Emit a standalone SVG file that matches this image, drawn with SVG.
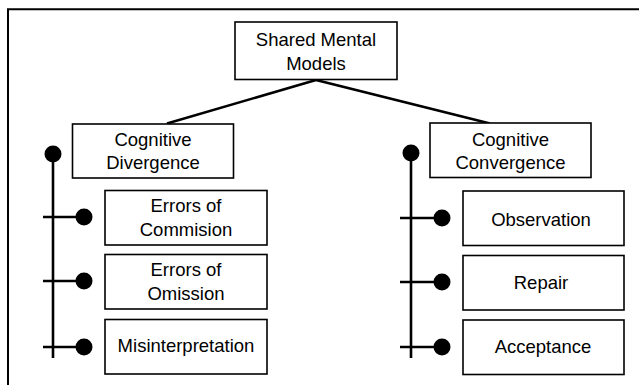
<svg xmlns="http://www.w3.org/2000/svg" width="639" height="385" viewBox="0 0 639 385">
<style>
.box{fill:#fff;stroke:#000;stroke-width:1.6}
.t{font-family:"Liberation Sans",Arial,sans-serif;font-size:18.5px;fill:#000;text-anchor:middle}
.ln{stroke:#000;stroke-width:2.6;fill:none}
.dot{fill:#000}
</style>
<rect width="639" height="385" fill="#fff"/>
<g id="frame">
<path d="M8,385 V9.2 H639" fill="none" stroke="#000" stroke-width="2"/>
</g>
<g id="connectors">
<line class="ln" x1="316" y1="80" x2="167" y2="123.5"/>
<line class="ln" x1="316" y1="80" x2="490" y2="123.5"/>
<line class="ln" x1="53" y1="154" x2="53" y2="358"/>
<line class="ln" x1="43" y1="217" x2="84" y2="217"/>
<line class="ln" x1="43" y1="281" x2="84" y2="281"/>
<line class="ln" x1="43" y1="347" x2="84" y2="347"/>
<circle class="dot" cx="53" cy="154" r="8.5"/>
<circle class="dot" cx="84" cy="217" r="8.5"/>
<circle class="dot" cx="84" cy="281" r="8.5"/>
<circle class="dot" cx="84" cy="347" r="8.5"/>
<line class="ln" x1="411" y1="153" x2="411" y2="358"/>
<line class="ln" x1="400" y1="218" x2="442" y2="218"/>
<line class="ln" x1="400" y1="282" x2="442" y2="282"/>
<line class="ln" x1="400" y1="347" x2="442" y2="347"/>
<circle class="dot" cx="411" cy="153" r="8.5"/>
<circle class="dot" cx="442" cy="218" r="8.5"/>
<circle class="dot" cx="442" cy="282" r="8.5"/>
<circle class="dot" cx="442" cy="347" r="8.5"/>
</g>
<g id="shared">
<rect class="box" x="235" y="22" width="162" height="57.5"/>
<text class="t" x="316" y="45.5">Shared Mental</text>
<text class="t" x="316" y="70">Models</text>
</g>
<g id="divergence">
<rect class="box" x="72.5" y="124" width="161" height="54"/>
<text class="t" x="153" y="146">Cognitive</text>
<text class="t" x="153" y="169">Divergence</text>
</g>
<g id="convergence">
<rect class="box" x="430" y="123" width="161" height="54.5"/>
<text class="t" x="510.5" y="146">Cognitive</text>
<text class="t" x="510.5" y="169">Convergence</text>
</g>
<g id="commision">
<rect class="box" x="105" y="190.5" width="162" height="54.5"/>
<text class="t" x="186" y="211.5">Errors of</text>
<text class="t" x="186" y="235.5">Commision</text>
</g>
<g id="omission">
<rect class="box" x="105" y="254.5" width="162" height="54.5"/>
<text class="t" x="186" y="275.5">Errors of</text>
<text class="t" x="186" y="299.5">Omission</text>
</g>
<g id="misinterpretation">
<rect class="box" x="105" y="319.5" width="162" height="54.5"/>
<text class="t" x="186" y="351.5">Misinterpretation</text>
</g>
<g id="observation">
<rect class="box" x="463" y="191" width="161" height="54.5"/>
<text class="t" x="541" y="225.5">Observation</text>
</g>
<g id="repair">
<rect class="box" x="463" y="255.5" width="161" height="54.5"/>
<text class="t" x="541" y="289">Repair</text>
</g>
<g id="acceptance">
<rect class="box" x="463" y="320" width="161" height="54.5"/>
<text class="t" x="543" y="352.5">Acceptance</text>
</g>
</svg>
